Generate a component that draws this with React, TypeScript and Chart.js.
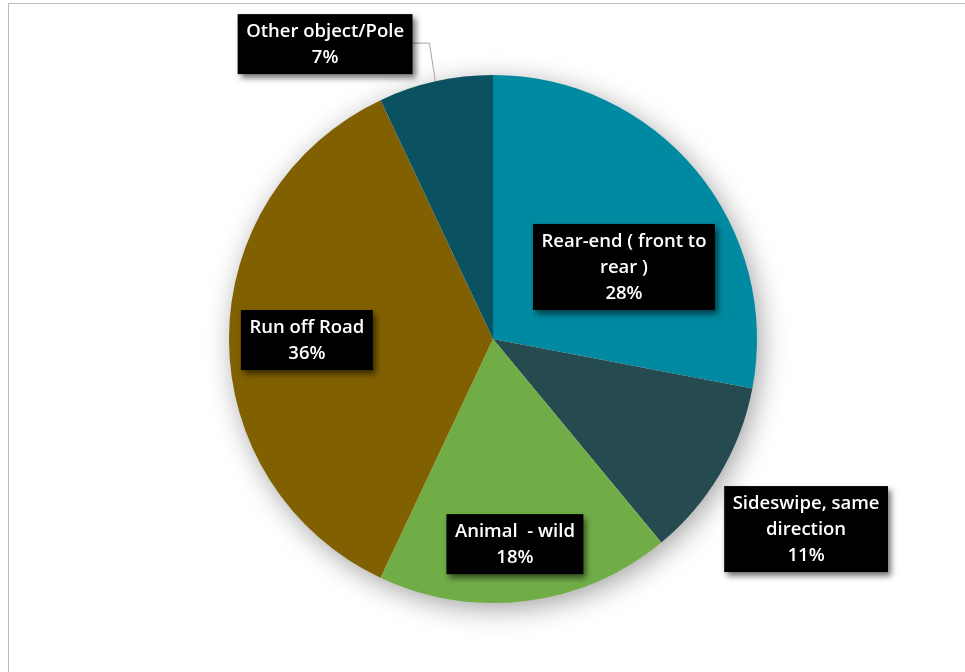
import React, { useEffect, useRef } from "react";
import { Chart, registerables } from "chart.js";

Chart.register(...registerables);

const categories = [
  "Rear-end ( front to rear )",
  "Sideswipe, same direction",
  "Animal  - wild",
  "Run off Road",
  "Other object/Pole",
];
const values = [28, 11, 18, 36, 7];
const colors = ["#008aa1", "#254a4f", "#70ad47", "#806000", "#0a5261"];
const labelLines = [
  ["Rear-end ( front to", "rear )"],
  ["Sideswipe, same", "direction"],
  ["Animal  - wild"],
  ["Run off Road"],
  ["Other object/Pole"],
];

// label centre offsets, in units of the pie radius from the pie centre
const labelOffsets = [
  [0.496, -0.273],
  [1.186, 0.72],
  [0.083, 0.777],
  [-0.705, 0.004],
  [-0.636, -1.117],
];
const leaderLines = [false, false, false, false, true];

const FONT = "600 18.5px 'Open Sans', Lato, sans-serif";
const LINE_H = 26;

const pieShadow = {
  id: "pieShadow",
  beforeDatasetsDraw(chart: any) {
    const arc = chart.getDatasetMeta(0).data[0];
    if (!arc) return;
    const ctx = chart.ctx;
    ctx.save();
    ctx.shadowColor = "rgba(0,0,0,0.38)";
    ctx.shadowBlur = 28;
    ctx.shadowOffsetX = 4;
    ctx.shadowOffsetY = 6;
    ctx.fillStyle = "#ffffff";
    ctx.beginPath();
    ctx.arc(arc.x, arc.y, arc.outerRadius - 1, 0, Math.PI * 2);
    ctx.fill();
    ctx.restore();
  },
};

const boxLabels = {
  id: "boxLabels",
  afterDatasetsDraw(chart: any) {
    const meta = chart.getDatasetMeta(0);
    const ctx = chart.ctx;
    const total = values.reduce((a, b) => a + b, 0);
    meta.data.forEach((arc: any, i: number) => {
      const r = arc.outerRadius;
      const cx = arc.x + labelOffsets[i][0] * r;
      const cy = arc.y + labelOffsets[i][1] * r;
      const lines = [...labelLines[i], Math.round((values[i] / total) * 100) + "%"];
      ctx.save();
      ctx.font = FONT;
      const tw = Math.max(...lines.map((l) => ctx.measureText(l).width));
      const w = tw + 17;
      const h = lines.length * LINE_H + 8;
      const x0 = cx - w / 2;
      const y0 = cy - h / 2;
      if (leaderLines[i]) {
        const mid = (arc.startAngle + arc.endAngle) / 2;
        const ex = arc.x + Math.cos(mid) * r;
        const ey = arc.y + Math.sin(mid) * r;
        ctx.strokeStyle = "#a6a6a6";
        ctx.lineWidth = 1;
        ctx.beginPath();
        ctx.moveTo(x0 + w, cy - 1);
        ctx.lineTo(ex - 6, cy - 1);
        ctx.lineTo(ex, ey);
        ctx.stroke();
      }
      ctx.shadowColor = "rgba(0,0,0,0.55)";
      ctx.shadowBlur = 6;
      ctx.shadowOffsetX = 3;
      ctx.shadowOffsetY = 4;
      ctx.fillStyle = "#000000";
      ctx.fillRect(x0, y0, w, h);
      ctx.shadowColor = "transparent";
      ctx.shadowBlur = 0;
      ctx.shadowOffsetX = 0;
      ctx.shadowOffsetY = 0;
      ctx.fillStyle = "#ffffff";
      ctx.textAlign = "center";
      ctx.textBaseline = "middle";
      lines.forEach((l, k) => {
        ctx.fillText(l, cx, y0 + 4 + LINE_H * (k + 0.5) + 1);
      });
      ctx.restore();
    });
  },
};

export default function App() {
  const ref = useRef<HTMLCanvasElement>(null);
  useEffect(() => {
    if (!ref.current) return;
    const chart = new Chart(ref.current, {
      type: "pie",
      data: {
        labels: categories,
        datasets: [
          {
            data: values,
            backgroundColor: colors,
            borderWidth: 0,
          },
        ],
      },
      options: {
        responsive: false,
        animation: false,
        devicePixelRatio: 1,
        layout: { padding: { left: 229, right: 208, top: 75, bottom: 69 } },
        plugins: {
          legend: { display: false },
          tooltip: { enabled: false },
        },
      },
      plugins: [pieShadow, boxLabels],
    });
    return () => chart.destroy();
  }, []);
  return (
    <div
      style={{
        position: "fixed",
        left: 0,
        top: 0,
        width: 965,
        height: 672,
        background: "#ffffff",
        overflow: "hidden",
      }}
    >
      <div
        style={{
          position: "absolute",
          left: 8,
          top: 3,
          width: 1100,
          height: 800,
          border: "1.5px solid #bdbdbd",
          boxSizing: "border-box",
        }}
      />
      <canvas
        ref={ref}
        width={965}
        height={672}
        style={{ position: "absolute", left: 0, top: 0, width: 965, height: 672 }}
      />
    </div>
  );
}
